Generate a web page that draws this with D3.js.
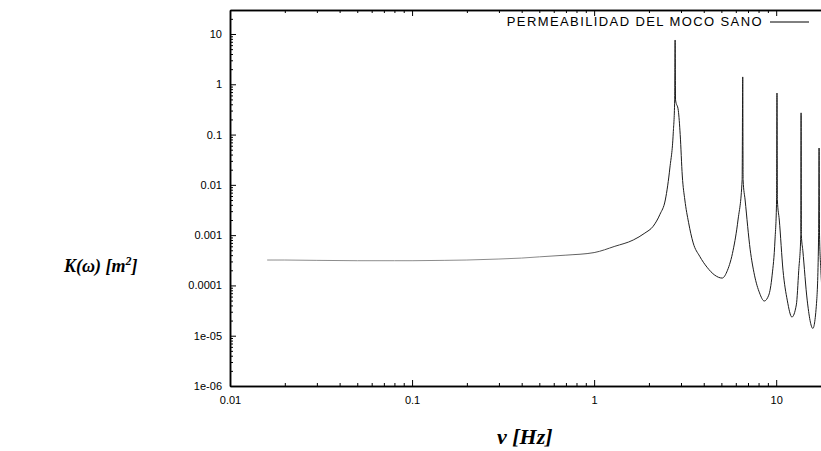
<!DOCTYPE html>
<html>
<head>
<meta charset="utf-8">
<title>Permeabilidad del moco sano</title>
<style>
    body {
        margin: 0;
        background-color: white;
    }

    .tick text {
        font-family: "Liberation Sans", Arial, sans-serif;
        font-size: 11px;
        fill: black;
    }

    .axis path,
    .axis line {
        stroke: black;
    }

    .axis-title {
        font-family: "Liberation Serif", "Times New Roman", serif;
        font-weight: bold;
        font-style: italic;
        font-size: 18px;
    }

    .legend {
        font-family: "Liberation Sans", Arial, sans-serif;
        font-size: 13px;
        letter-spacing: 1.4px;
    }
</style>
</head>
<body>
<svg id="chart" width="821" height="451"></svg>
<script src="https://cdn.jsdelivr.net/npm/d3@7"></script>
<script>
    // frecuencia (Hz) y permeabilidad K (m^2)
    var freq = [
        0.016, 0.02, 0.03, 0.05, 0.08, 0.1, 0.15, 0.2, 0.3, 0.4, 0.5, 0.7,
        1.0, 1.3, 1.64, 1.9, 2.11, 2.3, 2.46, 2.61, 2.72, 2.77, 2.785, 2.8,
        2.9, 2.97, 3.05, 3.15, 3.3, 3.5, 3.8, 4.17, 4.6, 5.05, 5.4, 5.8,
        6.17, 6.5, 6.55, 6.58, 6.75, 7.2, 7.6, 8.1, 8.6, 9.1, 9.5, 9.85,
        10.05, 10.1, 10.15, 10.4, 10.9, 11.5, 12.2, 12.9, 13.3, 13.65, 13.7,
        13.75, 14.0, 14.8, 15.9, 16.7, 17.1, 17.2, 17.3, 17.6, 18.5
    ];
    var perm = [
        3.2e-4, 3.2e-4, 3.15e-4, 3.1e-4, 3.1e-4, 3.1e-4, 3.15e-4, 3.2e-4, 3.35e-4, 3.5e-4, 3.7e-4, 4.0e-4,
        4.5e-4, 6.0e-4, 8e-4, 1.1e-3, 1.5e-3, 2.6e-3, 5e-3, 0.0226, 0.107, 0.49, 7.6, 0.49,
        0.3, 0.1, 0.015, 5e-3, 1.8e-3, 7e-4, 3.8e-4, 2.3e-4, 1.6e-4, 1.4e-4, 2e-4, 5e-4,
        2e-3, 0.0125, 1.4, 0.0125, 5e-3, 5.1e-4, 1.6e-4, 7.1e-5, 4.9e-5, 6.4e-5, 1.6e-4, 8e-4,
        5e-3, 0.67, 5e-3, 2e-3, 2e-4, 5.1e-5, 2.35e-5, 4.1e-5, 2e-4, 1e-3, 0.27,
        1e-3, 5e-4, 5.1e-5, 1.4e-5, 5.1e-5, 1e-3, 0.054, 1e-3, 2e-4, 2e-5
    ];

    var xTicks = [0.01, 0.1, 1, 10];
    var xTickLabels = ["0.01", "0.1", "1", "10"];
    var yTicks = [1e-6, 1e-5, 1e-4, 1e-3, 1e-2, 0.1, 1, 10];
    var yTickLabels = ["1e-06", "1e-05", "0.0001", "0.001", "0.01", "0.1", "1", "10"];
    var legendLabel = "PERMEABILIDAD DEL MOCO SANO";

    var plotL = 230, plotR = 831, plotT = 10, plotB = 386;

    var svg = d3.select("#chart");

    var x = d3.scaleLog().domain([0.01, 20]).range([plotL, plotR]);
    var y = d3.scaleLog().domain([1e-6, 30]).range([plotB, plotT]);

    function minors(scale) {
        var d = scale.domain(), out = [];
        for (var e = Math.floor(Math.log10(d[0])); e <= Math.ceil(Math.log10(d[1])); e++) {
            for (var m = 2; m <= 9; m++) {
                var v = m * Math.pow(10, e);
                if (v > d[0] && v < d[1]) out.push(v);
            }
        }
        return out;
    }

    function majorAxis(axis, ticks, labels) {
        return axis.tickValues(ticks)
            .tickFormat(function(d, i) { return labels ? labels[i] : ""; })
            .tickSizeInner(-6).tickSizeOuter(0);
    }

    function minorAxis(axis, scale) {
        return axis.tickValues(minors(scale)).tickFormat("").tickSizeInner(-3).tickSizeOuter(0);
    }

    // ejes inferior / superior
    svg.append("g").attr("class", "axis").attr("transform", "translate(0," + plotB + ")")
        .call(majorAxis(d3.axisBottom(x), xTicks, xTickLabels).tickPadding(10));
    svg.append("g").attr("class", "axis").attr("transform", "translate(0," + plotB + ")")
        .call(minorAxis(d3.axisBottom(x), x));
    svg.append("g").attr("class", "axis").attr("transform", "translate(0," + plotT + ")")
        .call(majorAxis(d3.axisTop(x), xTicks, null));
    svg.append("g").attr("class", "axis").attr("transform", "translate(0," + plotT + ")")
        .call(minorAxis(d3.axisTop(x), x));

    // ejes izquierdo / derecho
    svg.append("g").attr("class", "axis").attr("transform", "translate(" + plotL + ",0)")
        .call(majorAxis(d3.axisLeft(y), yTicks, yTickLabels).tickPadding(8));
    svg.append("g").attr("class", "axis").attr("transform", "translate(" + plotL + ",0)")
        .call(minorAxis(d3.axisLeft(y), y));
    svg.append("g").attr("class", "axis").attr("transform", "translate(" + plotR + ",0)")
        .call(majorAxis(d3.axisRight(y), yTicks, null));

    svg.selectAll(".axis path.domain").attr("stroke-width", 1.5);

    // el tramo plano sale gris en el original
    var grad = svg.append("defs").append("linearGradient")
        .attr("id", "tono").attr("gradientUnits", "userSpaceOnUse")
        .attr("x1", x(0.016)).attr("x2", x(2)).attr("y1", 0).attr("y2", 0);
    grad.append("stop").attr("offset", 0).attr("stop-color", "#8c8c8c");
    grad.append("stop").attr("offset", 0.7).attr("stop-color", "#8c8c8c");
    grad.append("stop").attr("offset", 1).attr("stop-color", "#1a1a1a");

    // curva
    var line = d3.line()
        .curve(d3.curveMonotoneX)
        .x(function(d) { return x(d[0]); })
        .y(function(d) { return y(d[1]); });

    svg.append("path")
        .datum(d3.zip(freq, perm))
        .attr("d", line)
        .attr("fill", "none")
        .attr("stroke", "url(#tono)")
        .attr("stroke-width", 1);

    // leyenda
    svg.append("text").attr("class", "legend")
        .attr("x", 763).attr("y", 26)
        .attr("text-anchor", "end")
        .text(legendLabel);
    svg.append("line")
        .attr("x1", 770).attr("x2", 809).attr("y1", 22).attr("y2", 22)
        .attr("stroke", "black").attr("stroke-width", 1);

    // titulos de ejes
    svg.append("text").attr("class", "axis-title").attr("x", 497).attr("y", 444)
        .style("font-size", "22px")
        .text("ν [Hz]");

    var yt = svg.append("text").attr("class", "axis-title").attr("x", 64).attr("y", 272);
    yt.append("tspan").text("K(ω) [m");
    yt.append("tspan").attr("dy", -7).style("font-size", "12px").text("2");
    yt.append("tspan").attr("dy", 7).text("]");
</script>
</body>
</html>
